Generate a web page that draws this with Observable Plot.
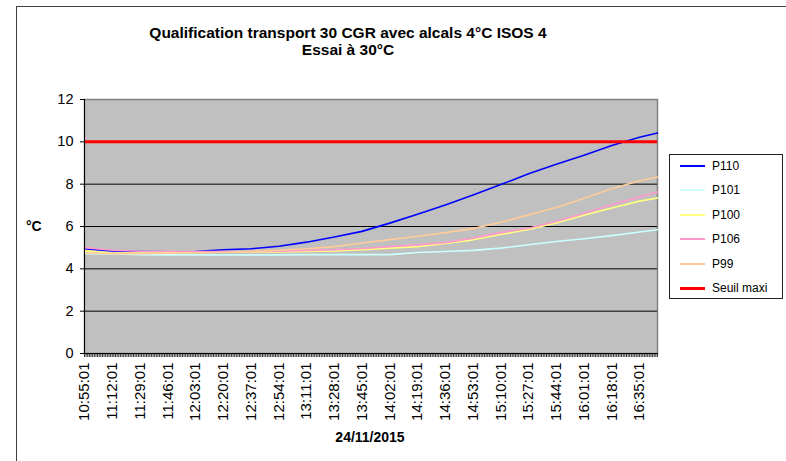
<!DOCTYPE html>
<html><head><meta charset="utf-8">
<script src="https://cdn.jsdelivr.net/npm/d3@7"></script>
<script src="https://cdn.jsdelivr.net/npm/@observablehq/plot@0.6"></script>
<style>
body{margin:0;background:#fff;font-family:"Liberation Sans",Arial,sans-serif;}
#wrap{position:relative;width:786px;height:461px;overflow:hidden;background:#fff;}
#wrap svg{position:absolute;left:0;top:0;}
#frame{position:absolute;left:16px;top:6px;width:800px;height:500px;border:1px solid #404040;box-sizing:border-box;}
.t{position:absolute;font-weight:bold;color:#000;white-space:nowrap;}
#legend{position:absolute;left:669px;top:154px;width:114px;height:145px;border:1px solid #202020;box-sizing:border-box;background:#fff;}
.row{position:absolute;left:0;height:20px;line-height:20px;font-size:12px;color:#000;}
.row span.sw{position:absolute;left:10px;top:9px;width:25px;height:2px;}
.row span.lb{position:absolute;left:42px;top:0;white-space:nowrap;}
</style></head>
<body>
<div id="wrap">
  <div id="frame"></div>
  <div class="t" id="title1" style="left:0;width:696px;text-align:center;top:24px;font-size:15.5px;line-height:18px;"></div>
  <div class="t" id="title2" style="left:0;width:696px;text-align:center;top:41px;font-size:15.5px;line-height:18px;"></div>
  <div class="t" id="ylab" style="left:26px;top:217px;font-size:14px;line-height:18px;"></div>
  <div class="t" id="xlab" style="left:270px;width:200px;text-align:center;top:428px;font-size:14px;line-height:18px;"></div>
  <div id="legend"></div>
</div>
<script>
const titleLines = ["Qualification transport 30 CGR avec alcals 4°C ISOS 4", "Essai à 30°C"];
const yAxisTitle = "°C";
const xAxisTitle = "24/11/2015";

// reading times (one reading per 17-min label, plus the last record)
const times = ["10:55:01","11:12:01","11:29:01","11:46:01","12:03:01","12:20:01","12:37:01","12:54:01","13:11:01","13:28:01","13:45:01","14:02:01","14:19:01","14:36:01","14:53:01","15:10:01","15:27:01","15:44:01","16:01:01","16:18:01","16:35:01","16:46:01"];
const xTickLabels = ["10:55:01","11:12:01","11:29:01","11:46:01","12:03:01","12:20:01","12:37:01","12:54:01","13:11:01","13:28:01","13:45:01","14:02:01","14:19:01","14:36:01","14:53:01","15:10:01","15:27:01","15:44:01","16:01:01","16:18:01","16:35:01"];
const yTicks = [0,2,4,6,8,10,12];

const seriesNames = ["P110","P101","P100","P106","P99"];
const P110 = [4.95,4.85,4.82,4.80,4.82,4.90,4.95,5.07,5.26,5.50,5.77,6.16,6.58,7.02,7.49,7.98,8.49,8.94,9.37,9.83,10.22,10.42];
const P101 = [4.72,4.70,4.67,4.66,4.66,4.66,4.66,4.66,4.67,4.67,4.67,4.67,4.77,4.82,4.87,4.98,5.14,5.29,5.42,5.57,5.74,5.85];
const P100 = [4.85,4.75,4.75,4.76,4.77,4.78,4.80,4.80,4.82,4.84,4.90,4.98,5.05,5.20,5.37,5.62,5.86,6.17,6.53,6.87,7.20,7.35];
const P106 = [5.00,4.88,4.83,4.82,4.82,4.82,4.82,4.83,4.87,4.90,4.96,5.05,5.13,5.24,5.45,5.71,5.92,6.24,6.63,7.03,7.40,7.63];
const P99  = [4.75,4.72,4.72,4.74,4.76,4.78,4.82,4.88,4.95,5.05,5.22,5.38,5.54,5.71,5.90,6.20,6.55,6.90,7.33,7.78,8.16,8.34];
const seuilName = "Seuil maxi";
const seuilMaxi = 10;

const seriesColors = ["#0000ff","#ccffff","#ffff80","#ff99cc","#ffcc99"];
const seuilColor = "#ff0000";

const toMin = s => { const [h,m,sec] = s.split(":").map(Number); return h*60 + m + sec/60; };
const t0 = toMin(times[0]);
const xs = times.map(s => Math.round(toMin(s) - t0));
const seriesValues = [P110,P101,P100,P106,P99];
const rows = seriesNames.flatMap((name,i) => xs.map((x,j) => ({name, x, v: seriesValues[i][j]})));
const labelTicks = xTickLabels.map(s => Math.round(toMin(s) - t0));
const labelMap = new Map(labelTicks.map((t,i) => [t, xTickLabels[i]]));
const xEnd = xs[xs.length-1];
const minuteTicks = d3.range(0, xEnd + 1, 1);

const chart = Plot.plot({
  width: 786, height: 461,
  marginLeft: 84, marginRight: 129, marginTop: 99, marginBottom: 108,
  style: {fontFamily: "Liberation Sans, Arial, sans-serif", fontSize: "14px", background: "transparent", color: "#000"},
  x: {domain: [0, xEnd]},
  y: {domain: [0, 12]},
  color: {domain: seriesNames, range: seriesColors},
  marks: [
    Plot.frame({fill: "#c0c0c0", stroke: "#808080", strokeWidth: 1.5}),
    Plot.ruleY(yTicks.filter(d => d > 0 && d < 12), {stroke: "#000", strokeWidth: 1}),
    Plot.line(rows, {x: "x", y: "v", z: "name", stroke: "name", strokeWidth: 1.6}),
    Plot.ruleY([seuilMaxi], {stroke: seuilColor, strokeWidth: 3}),
    Plot.ruleX([0], {stroke: "#000", strokeWidth: 1}),
    Plot.ruleY([0], {stroke: "#000", strokeWidth: 1}),
    Plot.axisY({ticks: yTicks, tickSize: 4, tickPadding: 7, label: null, fontSize: 14.5}),
    Plot.axisX({ticks: minuteTicks, tickSize: 4, tickFormat: () => "", label: null, strokeWidth: 0.8}),
    Plot.axisX({ticks: labelTicks, tickSize: 0, tickPadding: 9, tickRotate: -90, tickFormat: d => labelMap.get(d), label: null, fontSize: 15})
  ]
});
document.getElementById("wrap").insertBefore(chart, document.getElementById("title1"));
document.getElementById("title1").textContent = titleLines[0];
document.getElementById("title2").textContent = titleLines[1];
document.getElementById("ylab").textContent = yAxisTitle;
document.getElementById("xlab").textContent = xAxisTitle;

const legend = document.getElementById("legend");
const legendItems = seriesNames.map((n,i) => ({n, c: seriesColors[i], w: 2})).concat([{n: seuilName, c: seuilColor, w: 3}]);
legendItems.forEach((it, i) => {
  const r = document.createElement("div");
  r.className = "row";
  r.style.top = (1 + i * 24.4) + "px";
  r.style.width = "110px";
  const sw = document.createElement("span");
  sw.className = "sw"; sw.style.background = it.c; sw.style.height = it.w + "px"; sw.style.top = (10 - it.w/2) + "px";
  const lb = document.createElement("span");
  lb.className = "lb"; lb.textContent = it.n;
  r.appendChild(sw); r.appendChild(lb);
  legend.appendChild(r);
});
</script>
</body></html>
